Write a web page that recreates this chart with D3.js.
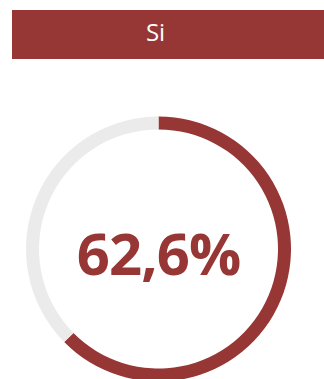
<!DOCTYPE html>
<html>
<head>
<meta charset="utf-8">
<script src="https://cdn.jsdelivr.net/npm/d3@7"></script>
<style>
  html, body { margin: 0; padding: 0; background: #ffffff; }
  svg { display: block; }
</style>
</head>
<body>
<svg id="chart" width="324" height="379"></svg>
<script>
// Gauge data: share answering "Si" versus the remainder
const categories = ["Si", "Resto"];
const values = [62.6, 37.4];
const colors = ["#963735", "#ebebeb"];
const title = "Si";

const svg = d3.select("#chart");
const W = 324;

// Header band
svg.append("rect")
  .attr("x", 12).attr("y", 10)
  .attr("width", W - 12).attr("height", 49)
  .attr("fill", colors[0]);

svg.append("text")
  .attr("x", 155.5).attr("y", 40.5)
  .attr("text-anchor", "middle")
  .attr("font-family", "'Open Sans', sans-serif")
  .attr("font-size", 24)
  .attr("fill", "#ffffff")
  .text(title);

// Ring
const cx = 158.5, cy = 249;
const outerR = 132.5, innerR = 119.5;

const pie = d3.pie().sort(null).value(d => d)
  .startAngle(0).endAngle(2 * Math.PI);
const arc = d3.arc().innerRadius(innerR).outerRadius(outerR);

const g = svg.append("g").attr("transform", `translate(${cx},${cy})`);
g.selectAll("path")
  .data(pie(values))
  .join("path")
  .attr("d", arc)
  .attr("fill", (d, i) => colors[i]);

// Central value label
const fmt = v => v.toFixed(1).replace(".", ",") + "%";
g.append("text")
  .attr("x", 0).attr("y", 26)
  .attr("text-anchor", "middle")
  .attr("font-family", "'Open Sans', sans-serif")
  .attr("font-weight", 700)
  .attr("font-size", 58)
  .attr("letter-spacing", -1)
  .attr("fill", colors[0])
  .text(fmt(values[0]));
</script>
</body>
</html>
